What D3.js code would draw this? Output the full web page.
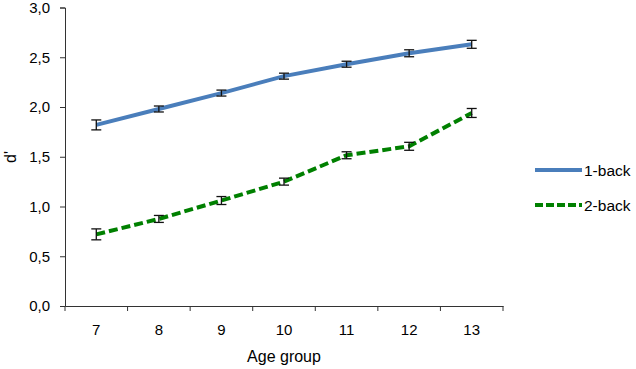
<!DOCTYPE html>
<html><head><meta charset="utf-8">
<script src="https://cdn.jsdelivr.net/npm/d3@7"></script>
<style>body{margin:0;background:#fff}svg{display:block}text{font-family:"Liberation Sans",Arial,sans-serif;fill:#000}</style>
</head><body><svg id="c" width="636" height="369"></svg>
<script>
const categories = ["7","8","9","10","11","12","13"];
const oneBack = [1.82,1.98,2.14,2.31,2.43,2.54,2.63];
const oneBackErr = [0.05,0.03,0.03,0.03,0.03,0.035,0.04];
const twoBack = [0.72,0.875,1.06,1.25,1.515,1.605,1.94];
const twoBackErr = [0.055,0.035,0.04,0.035,0.035,0.04,0.045];
const yTicks = [0,0.5,1,1.5,2,2.5,3];
const seriesNames = ["1-back","2-back"];

const svg = d3.select("#c");
const x = d3.scaleBand().domain(categories).range([65,503]);
const y = d3.scaleLinear().domain([0,3]).range([306,7.5]);
const fmt = d => d3.format(".1f")(d).replace(".",",");

// y axis
const ya = svg.append("g").attr("transform","translate(65,0)")
  .call(d3.axisLeft(y).tickValues(yTicks).tickFormat(fmt).tickSize(5).tickPadding(10));
ya.selectAll("text").style("font-size","15px");
// x axis
const xa = svg.append("g").attr("transform","translate(0,306)")
  .call(d3.axisBottom(x).tickSize(0).tickPadding(18));
xa.selectAll("text").style("font-size","15px");
// tick marks at band boundaries
const bounds = categories.map(c=>x(c)).concat([x.range()[1]]);
xa.selectAll(".bt").data(bounds).enter().append("line").attr("class","bt")
  .attr("x1",d=>d).attr("x2",d=>d).attr("y1",0).attr("y2",5).attr("stroke","#333");
svg.selectAll(".domain").attr("stroke","#333");
svg.selectAll(".tick line").attr("stroke","#333");

const cx = c => x(c) + x.bandwidth()/2;
const line = d3.line().x((d,i)=>cx(categories[i])).y(d=>y(d));

function errBars(vals, errs){
  const g = svg.append("g").attr("stroke","#111").attr("stroke-width",1.3);
  vals.forEach((v,i)=>{
    const X = cx(categories[i]);
    g.append("line").attr("x1",X).attr("x2",X).attr("y1",y(v-errs[i])).attr("y2",y(v+errs[i]));
    g.append("line").attr("x1",X-5).attr("x2",X+5).attr("y1",y(v-errs[i])).attr("y2",y(v-errs[i]));
    g.append("line").attr("x1",X-5).attr("x2",X+5).attr("y1",y(v+errs[i])).attr("y2",y(v+errs[i]));
  });
}

svg.append("path").datum(oneBack).attr("d",line).attr("fill","none")
  .attr("stroke","#4A7EBB").attr("stroke-width",4);
errBars(oneBack, oneBackErr);
svg.append("path").datum(twoBack).attr("d",line).attr("fill","none")
  .attr("stroke","#008000").attr("stroke-width",4).attr("stroke-dasharray","9,4");
errBars(twoBack, twoBackErr);

// legend
const leg = svg.append("g");
[["#4A7EBB",null,170],["#008000","8,3",205]].forEach((s,i)=>{
  leg.append("line").attr("x1",535).attr("x2",582).attr("y1",s[2]).attr("y2",s[2])
    .attr("stroke",s[0]).attr("stroke-width",4).attr("stroke-dasharray",s[1]);
  leg.append("text").attr("x",584).attr("y",s[2]+5.5).style("font-size","15.5px").text(seriesNames[i]);
});

// axis titles
svg.append("text").attr("x",284).attr("y",362).attr("text-anchor","middle").style("font-size","16px").text("Age group");
svg.append("text").attr("transform","translate(16,157) rotate(-90)").attr("text-anchor","middle").style("font-size","16px").text("d'");
</script></body></html>
